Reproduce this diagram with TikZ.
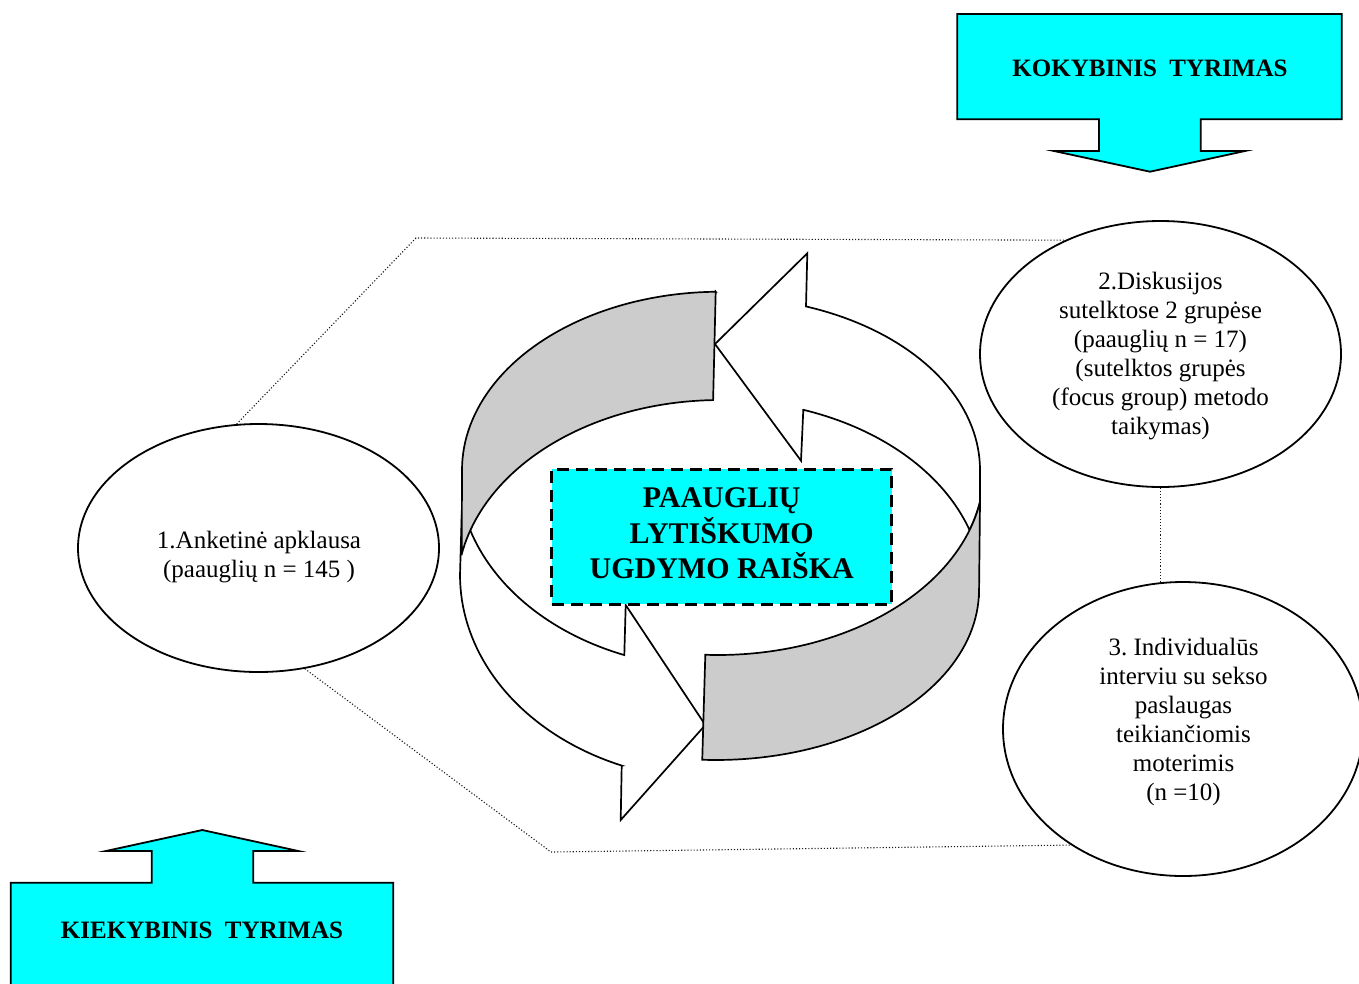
\documentclass[tikz,border=0pt]{standalone}
\usepackage{fontspec}
\setmainfont{Liberation Serif}
\usetikzlibrary{shapes.geometric}
\definecolor{bandgray}{RGB}{204,204,204}
\definecolor{boxcyan}{RGB}{0,255,255}
\begin{document}
\frenchspacing
\begin{tikzpicture}[x=1pt,y=-1pt,
  band/.style={draw=black, line width=1.7pt, line join=miter},
  bubble/.style={draw, ellipse, line width=1.8pt, inner sep=0pt},
  bodytext/.style={align=center, font=\fontsize{25}{29}\selectfont, inner sep=0pt},
  headtext/.style={align=center, font=\bfseries\fontsize{25}{29}\selectfont, inner sep=0pt},
  coretext/.style={align=center, font=\bfseries\fontsize{30}{35.5}\selectfont, inner sep=0pt},
  callout/.style={draw=black, fill=boxcyan, line width=1.8pt, line join=miter},
  corebox/.style={draw=black, fill=boxcyan, line width=3pt, dash pattern=on 12pt off 7pt, inner sep=0pt, minimum width=340pt, minimum height=135pt},
  link/.style={dotted, line width=1.1pt, draw=black!90}]
\useasboundingbox (0,0) rectangle (1359,983);
\clip (0,0) rectangle (1359,983);
\fill[white] (0,0) rectangle (1359,983);

% ---- top cyan arrow box ----
\filldraw[callout] (957.3,14) -- (1341.7,14) -- (1341.7,119.3) -- (1200.7,119.3) -- (1200.7,151) -- (1245,151) -- (1150,171.7) -- (1054,151) -- (1099,151) -- (1099,119.3) -- (957.3,119.3) -- cycle;
\node[headtext] (kok) at (1150,68) {KOKYBINIS\ \ TYRIMAS};

% ---- bottom cyan arrow box ----
\filldraw[callout] (10.7,995) -- (10.7,882.7) -- (151.7,882.7) -- (151.7,851) -- (106,851) -- (202.3,830) -- (298.3,851) -- (253.3,851) -- (253.3,882.7) -- (393.3,882.7) -- (393.3,995) -- cycle;
\node[headtext] (kie) at (202,930) {KIEKYBINIS\ \ TYRIMAS};

% ---- ellipses ----
\node[bubble, minimum width=361pt, minimum height=248pt] (e1) at (258.5,548) {};
\node[bubble, minimum width=361pt, minimum height=266pt] (e2) at (1160.5,354) {};
\node[bubble, minimum width=360pt, minimum height=294pt] (e3) at (1183,729) {};
\node[bodytext] (t1) at (259,557.5) {1.Anketinė apklausa\\(paauglių n = 145 )};
\node[bodytext] (t2) at (1160.5,356.5) {2.Diskusijos\\sutelktose 2 grupėse\\(paauglių n = 17)\\(sutelktos grupės\\(focus group) metodo\\taikymas)};
\node[bodytext] (t3) at (1183.5,721.5) {3. Individualūs\\interviu su sekso\\paslaugas\\teikiančiomis\\moterimis\\(n =10)};

% ---- dotted connectors ----
\coordinate (c1) at (416,238);
\coordinate (c2) at (551,852);
\draw[link] (e1.100) -- (c1) -- (e2.130);
\draw[link] (e1.291) -- (c2) -- (e3.226);
\draw[link] (e2.south) -- (e2.south |- e3.north);

% ---- circular arrows ----
% top-right white arrow (head at top pointing left)
\filldraw[band, fill=white] (806,306.4) -- (807.3,253.3) -- (715,344) -- (801,460.7) -- (803.3,409.8)
  -- plot[domain=71.53:18.35, samples=40, variable=\t] ({720+263*cos(\t)},{590-190*sin(\t)})
  -- plot[domain=-18.93:-9.95, samples=8, variable=\t] ({718+266*cos(\t)},{470-185*sin(\t)})
  -- (980,470)
  -- plot[domain=0:71, samples=40, variable=\t] ({722+258*cos(\t)},{470-173*sin(\t)}) -- cycle;
% bottom-left white arrow (head at bottom pointing right)
\filldraw[band, fill=white] (625.7,605) -- (705.3,725) -- (620.7,820) -- (621.7,765.6)
  -- plot[domain=248.4:180, samples=40, variable=\t] ({716+256*cos(\t)},{575-205*sin(\t)})
  -- (462,504.7)
  -- plot[domain=190.1:249.18, samples=40, variable=\t] ({716+258*cos(\t)},{470-198*sin(\t)}) -- cycle;
% lower-right gray band
\filldraw[band, fill=bandgray] (705.3,655)
  -- plot[domain=-92.74:-9.95, samples=50, variable=\t] ({718+266*cos(\t)},{470-185*sin(\t)})
  -- (979,596)
  -- plot[domain=-2:-93, samples=50, variable=\t] ({716+263*cos(\t)},{590-170*sin(\t)}) -- cycle;
% upper-left gray band
\filldraw[band, fill=bandgray] (715.7,291.7)
  -- plot[domain=90.95:180, samples=50, variable=\t] ({720+258*cos(\t)},{470-178.3*sin(\t)})
  -- (461.7,554.4)
  -- plot[domain=169.2:91.5, samples=50, variable=\t] ({720+263*cos(\t)},{590-190*sin(\t)}) -- cycle;

% ---- central box ----
\node[corebox] (core) at (721.7,536.8) {};
\node[coretext] (ct) at (721.7,533.5) {PAAUGLIŲ\\LYTIŠKUMO\\UGDYMO RAIŠKA};
\end{tikzpicture}
\end{document}
